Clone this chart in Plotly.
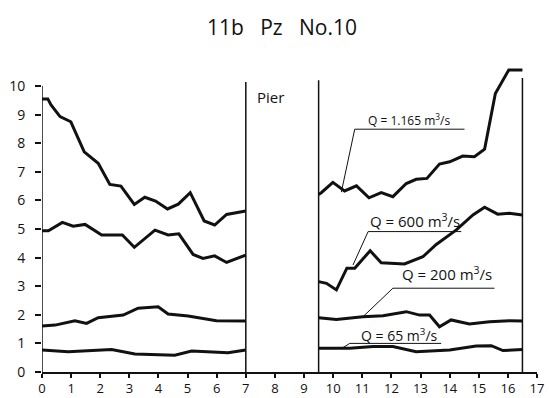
import plotly.graph_objects as go

# ---- data ----
# left of pier (x 0..7) and right of pier (x 9.5..16.5)
q1165_left_x = [0, 0.2, 0.31, 0.62, 0.99, 1.19, 1.45, 1.93, 2.33, 2.71, 3.17, 3.53, 3.90, 4.31, 4.68, 5.09, 5.57, 5.93, 6.34, 7.0]
q1165_left_y = [9.55, 9.55, 9.34, 8.93, 8.75, 8.29, 7.70, 7.30, 6.56, 6.50, 5.86, 6.11, 5.98, 5.70, 5.87, 6.27, 5.28, 5.14, 5.51, 5.63]
q1165_right_x = [9.5, 9.59, 9.99, 10.39, 10.80, 11.23, 11.65, 12.05, 12.51, 12.85, 13.22, 13.65, 14.00, 14.45, 14.85, 15.20, 15.57, 16.03, 16.5]
q1165_right_y = [6.21, 6.27, 6.63, 6.33, 6.51, 6.09, 6.27, 6.13, 6.59, 6.74, 6.77, 7.27, 7.35, 7.55, 7.53, 7.79, 9.74, 10.56, 10.56]

q600_left_x = [0, 0.22, 0.70, 1.07, 1.48, 2.05, 2.76, 3.17, 3.88, 4.33, 4.70, 5.19, 5.53, 5.93, 6.34, 7.0]
q600_left_y = [4.94, 4.94, 5.23, 5.10, 5.16, 4.79, 4.79, 4.36, 4.96, 4.79, 4.83, 4.11, 3.97, 4.06, 3.83, 4.09]
q600_right_x = [9.5, 9.77, 10.11, 10.47, 10.74, 11.27, 11.65, 12.45, 13.08, 13.54, 14.23, 14.80, 15.20, 15.65, 16.05, 16.5]
q600_right_y = [3.16, 3.10, 2.87, 3.63, 3.63, 4.24, 3.82, 3.78, 4.03, 4.46, 4.97, 5.49, 5.76, 5.52, 5.55, 5.49]

q200_left_x = [0, 0.45, 1.13, 1.53, 1.93, 2.79, 3.30, 3.99, 4.33, 5.02, 5.99, 7.0]
q200_left_y = [1.61, 1.64, 1.79, 1.70, 1.90, 1.99, 2.23, 2.28, 2.03, 1.96, 1.79, 1.78]
q200_right_x = [9.5, 10.11, 11.02, 11.71, 12.51, 12.97, 13.31, 13.65, 14.05, 14.68, 15.37, 16.05, 16.5]
q200_right_y = [1.90, 1.84, 1.93, 1.97, 2.11, 1.99, 1.99, 1.58, 1.82, 1.68, 1.76, 1.79, 1.78]

q65_left_x = [0, 0.90, 2.39, 3.19, 4.56, 5.14, 6.39, 7.0]
q65_left_y = [0.77, 0.71, 0.79, 0.63, 0.59, 0.73, 0.67, 0.77]
q65_right_x = [9.5, 10.57, 11.37, 12.05, 12.85, 14.00, 14.91, 15.43, 15.83, 16.5]
q65_right_y = [0.83, 0.83, 0.89, 0.89, 0.71, 0.77, 0.91, 0.92, 0.75, 0.79]

x_ticks = list(range(0, 18))
y_ticks = list(range(0, 11))
title_text = "11b\u00a0\u00a0\u00a0Pz\u00a0\u00a0\u00a0No.10"

FONT = "Open Sans"
INK = "#111111"

fig = go.Figure()
for xs, ys in [(q1165_left_x, q1165_left_y), (q1165_right_x, q1165_right_y),
               (q600_left_x, q600_left_y), (q600_right_x, q600_right_y),
               (q200_left_x, q200_left_y), (q200_right_x, q200_right_y),
               (q65_left_x, q65_left_y), (q65_right_x, q65_right_y)]:
    fig.add_trace(go.Scatter(x=xs, y=ys, mode="lines",
                             line=dict(color=INK, width=3), cliponaxis=False,
                             hoverinfo="skip", showlegend=False))

shapes = []
# y axis line from 0 to 10
shapes.append(dict(type="line", x0=0, x1=0, y0=0, y1=10, xref="x", yref="y",
                   line=dict(color=INK, width=1.5)))
# pier and end walls
for xv, ytop in [(7, 10.14), (9.5, 10.2), (16.5, 10.28)]:
    shapes.append(dict(type="line", x0=xv, x1=xv, y0=0, y1=ytop, xref="x", yref="y",
                       line=dict(color=INK, width=1.5)))
# label underlines and leaders: (ux0, ux1, uy, leader end x, leader end y)
leaders = [(10.74, 14.51, 8.49, 10.28, 6.29),
           (11.2, 14.4, 4.91, 10.68, 3.74),
           (12.05, 15.54, 2.93, 11.02, 1.93),
           (10.57, 13.71, 1.0, 10.3, 0.83)]
for ux0, ux1, uy, lx, ly in leaders:
    shapes.append(dict(type="line", x0=ux0, x1=ux1, y0=uy, y1=uy, xref="x", yref="y",
                       line=dict(color=INK, width=1)))
    shapes.append(dict(type="line", x0=ux0, x1=lx, y0=uy, y1=ly, xref="x", yref="y",
                       line=dict(color=INK, width=1)))

annotations = [
    dict(x=12.62, y=8.81, text="Q = 1.165 m<sup>3</sup>/s", font=dict(size=12)),
    dict(x=12.8, y=5.31, text="Q = 600 m<sup>3</sup>/s", font=dict(size=15)),
    dict(x=13.9, y=3.46, text="Q = 200 m<sup>3</sup>/s", font=dict(size=15)),
    dict(x=12.28, y=1.29, text="Q = 65 m<sup>3</sup>/s", font=dict(size=14)),
    dict(x=7.86, y=9.62, text="Pier", font=dict(size=15)),
]
for a in annotations:
    a.update(xref="x", yref="y", showarrow=False)
    a["font"].update(family=FONT, color=INK)

fig.update_layout(
    width=549, height=398,
    margin=dict(l=42, r=12, t=66, b=26, pad=0),
    paper_bgcolor="white", plot_bgcolor="white",
    shapes=shapes, annotations=annotations,
    title=dict(text=title_text, x=282 / 549, xanchor="center", y=1 - 28 / 398, yanchor="middle",
               font=dict(family=FONT, size=21, color=INK)),
    xaxis=dict(range=[0, 17], tickvals=x_ticks, ticktext=[str(v) for v in x_ticks],
               showgrid=False, zeroline=False, showline=True, linecolor=INK, linewidth=1.5,
               ticks="outside", ticklen=4, tickcolor=INK, tickwidth=1.5, ticklabelstandoff=0,
               automargin=False,
               tickfont=dict(family=FONT, size=13, color=INK)),
    yaxis=dict(range=[0, 10.7], tickvals=y_ticks, ticktext=[str(v) for v in y_ticks],
               showgrid=False, zeroline=False, showline=False,
               ticks="outside", ticklen=6, tickcolor=INK, tickwidth=1.5, ticklabelstandoff=7,
               automargin=False,
               tickfont=dict(family=FONT, size=14, color=INK)),
)

fig.write_html("out.html")
